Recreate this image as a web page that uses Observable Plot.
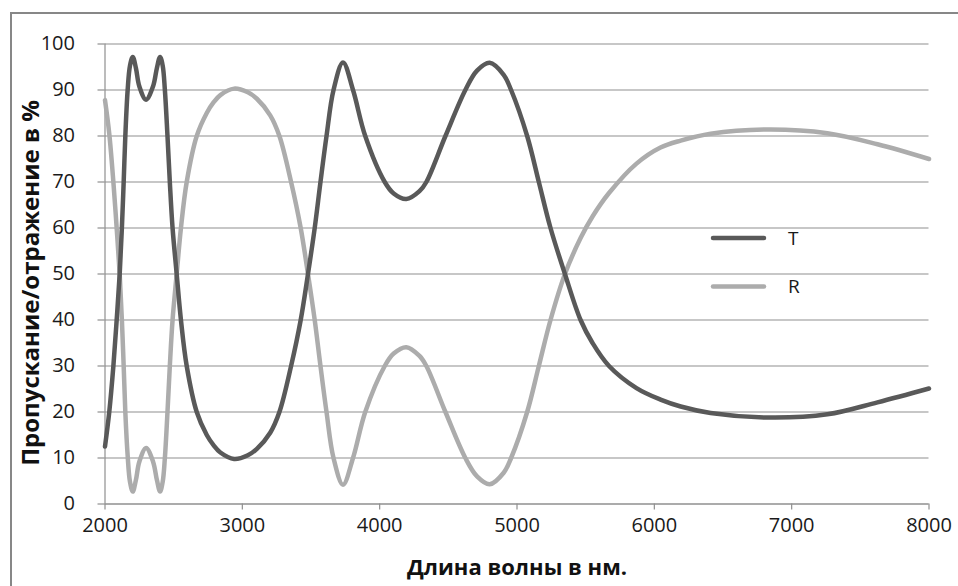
<!DOCTYPE html>
<html>
<head>
<meta charset="utf-8">
<script src="https://cdn.jsdelivr.net/npm/d3@7"></script>
<script src="https://cdn.jsdelivr.net/npm/@observablehq/plot@0.6"></script>
<style>
  html, body { margin: 0; padding: 0; background: #ffffff; }
  #wrap { position: relative; width: 958px; height: 586px; overflow: hidden; background: #fff; }
  #border { position: absolute; left: 10px; top: 12px; width: 1000px; height: 700px; border: 2px solid #878787; pointer-events: none; }
  #legend { position: absolute; left: 0; top: 0; pointer-events: none; }
</style>
</head>
<body>
<div id="wrap"><div id="border"></div></div>
<script>
// Wavelength (nm)
const wavelength = [2000, 2031, 2061, 2085, 2107, 2123, 2136, 2148, 2165, 2182, 2202, 2225, 2250, 2299, 2350, 2378, 2401, 2420, 2436, 2455, 2472, 2492, 2522, 2553, 2595, 2668, 2741, 2790, 2840, 2940, 3040, 3106, 3203, 3270, 3355, 3425, 3478, 3527, 3569, 3613, 3664, 3733, 3806, 3895, 4037, 4102, 4194, 4290, 4340, 4479, 4624, 4709, 4801, 4903, 4957, 5074, 5159, 5244, 5349, 5463, 5550, 5670, 5870, 6045, 6192, 6410, 6823, 7260, 7625, 8000];
// Transmission T, %
const seriesT = [12.5, 20, 30, 40, 50, 60, 70, 80, 90, 95.3, 97.2, 94.8, 90.8, 87.9, 90.8, 94.8, 97.2, 95.3, 90, 80, 70, 60, 50, 40, 30, 20, 15, 12.8, 11.2, 9.8, 10.6, 12.0, 15.5, 20, 30, 40, 50, 60, 70, 80, 90, 96.0, 90, 80, 70, 67.5, 66.3, 68.0, 70, 80, 90, 94.2, 95.9, 93.3, 90, 80, 70, 60, 50, 40, 35, 30, 25.2, 22.7, 21.2, 19.8, 18.8, 19.5, 22.1, 25.1];
// Reflection R, %
const seriesR = [87.8, 80.5, 70, 60, 50, 40, 30, 20, 10.5, 4.8, 2.7, 5.2, 9.2, 12.2, 9.2, 5.2, 2.7, 4.8, 10, 20, 30, 40, 50, 60, 70, 80, 85, 87.3, 88.9, 90.3, 89.5, 88.1, 84.5, 80, 70, 60, 50, 40, 30, 20, 10, 4.2, 10, 20, 30, 32.7, 34.1, 32.2, 30, 20, 10, 6, 4.3, 6.8, 10, 20, 30, 40, 50, 57.8, 62.5, 67.6, 74.0, 77.5, 79.0, 80.5, 81.4, 80.6, 78.2, 75.0];

const seriesNames = ["T", "R"];
const xTicks = [2000, 3000, 4000, 5000, 6000, 7000, 8000];
const yTicks = [0, 10, 20, 30, 40, 50, 60, 70, 80, 90, 100];
const xTitle = "Длина волны в нм.";
const yTitle = "Пропускание/отражение в %";

const colors = {T: "#595959", R: "#acacac"};
const rows = [];
wavelength.forEach((w, i) => {
  rows.push({series: "T", w, v: seriesT[i]});
  rows.push({series: "R", w, v: seriesR[i]});
});

const font = "'Open Sans', sans-serif";
const gridColor = "#8f8f8f";
const fmt = d => String(d);

const chart = Plot.plot({
  width: 958,
  height: 586,
  marginLeft: 104.5,
  marginRight: 29.5,
  marginTop: 43.5,
  marginBottom: 82.5,
  style: {fontFamily: font, fontSize: "20px", color: "#1a1a1a", background: "transparent"},
  x: {domain: [2000, 8000], ticks: xTicks, tickFormat: fmt},
  y: {domain: [0, 100], ticks: yTicks, tickFormat: fmt},
  marks: [
    Plot.gridY(yTicks, {stroke: gridColor, strokeOpacity: 1, strokeWidth: 1.2}),
    Plot.axisY(yTicks, {tickSize: 7, tickPadding: 23, stroke: gridColor, strokeWidth: 1.2, fill: "#1a1a1a", fontSize: 20, tickFormat: fmt, label: null}),
    Plot.axisX(xTicks, {tickSize: 6, tickPadding: 8, stroke: gridColor, strokeWidth: 1.2, fill: "#1a1a1a", fontSize: 20, tickFormat: fmt, label: null}),
    Plot.ruleX([2000], {stroke: gridColor, strokeWidth: 1.2}),
    Plot.ruleY([0], {stroke: gridColor, strokeWidth: 1.2}),
    Plot.line(rows.filter(d => d.series === "R"), {x: "w", y: "v", stroke: colors.R, strokeWidth: 4.5, curve: "catmull-rom"}),
    Plot.line(rows.filter(d => d.series === "T"), {x: "w", y: "v", stroke: colors.T, strokeWidth: 4.5, curve: "catmull-rom"}),
    Plot.text([xTitle], {frameAnchor: "bottom", dy: 71, fontWeight: "bold", fontSize: 22, fill: "#111"}),
    Plot.text([yTitle], {frameAnchor: "left", textAnchor: "middle", dx: -74, dy: 9, rotate: -90, fontWeight: "bold", fontSize: 24, fill: "#111"})
  ]
});
const wrap = document.getElementById("wrap");
wrap.insertBefore(chart, wrap.firstChild);

// Legend
const ns = "http://www.w3.org/2000/svg";
const leg = document.createElementNS(ns, "svg");
leg.setAttribute("id", "legend");
leg.setAttribute("width", 958);
leg.setAttribute("height", 586);
seriesNames.forEach((name, i) => {
  const y = 238 + i * 48.5;
  const line = document.createElementNS(ns, "line");
  line.setAttribute("x1", 713); line.setAttribute("x2", 764);
  line.setAttribute("y1", y); line.setAttribute("y2", y);
  line.setAttribute("stroke", colors[name]);
  line.setAttribute("stroke-width", 4.5);
  line.setAttribute("stroke-linecap", "round");
  leg.appendChild(line);
  const t = document.createElementNS(ns, "text");
  t.setAttribute("x", 788); t.setAttribute("y", y);
  t.setAttribute("dy", "0.35em");
  t.setAttribute("font-family", font);
  t.setAttribute("font-size", 19);
  t.setAttribute("fill", "#1a1a1a");
  t.textContent = name;
  leg.appendChild(t);
});
wrap.appendChild(leg);
</script>
</body>
</html>
